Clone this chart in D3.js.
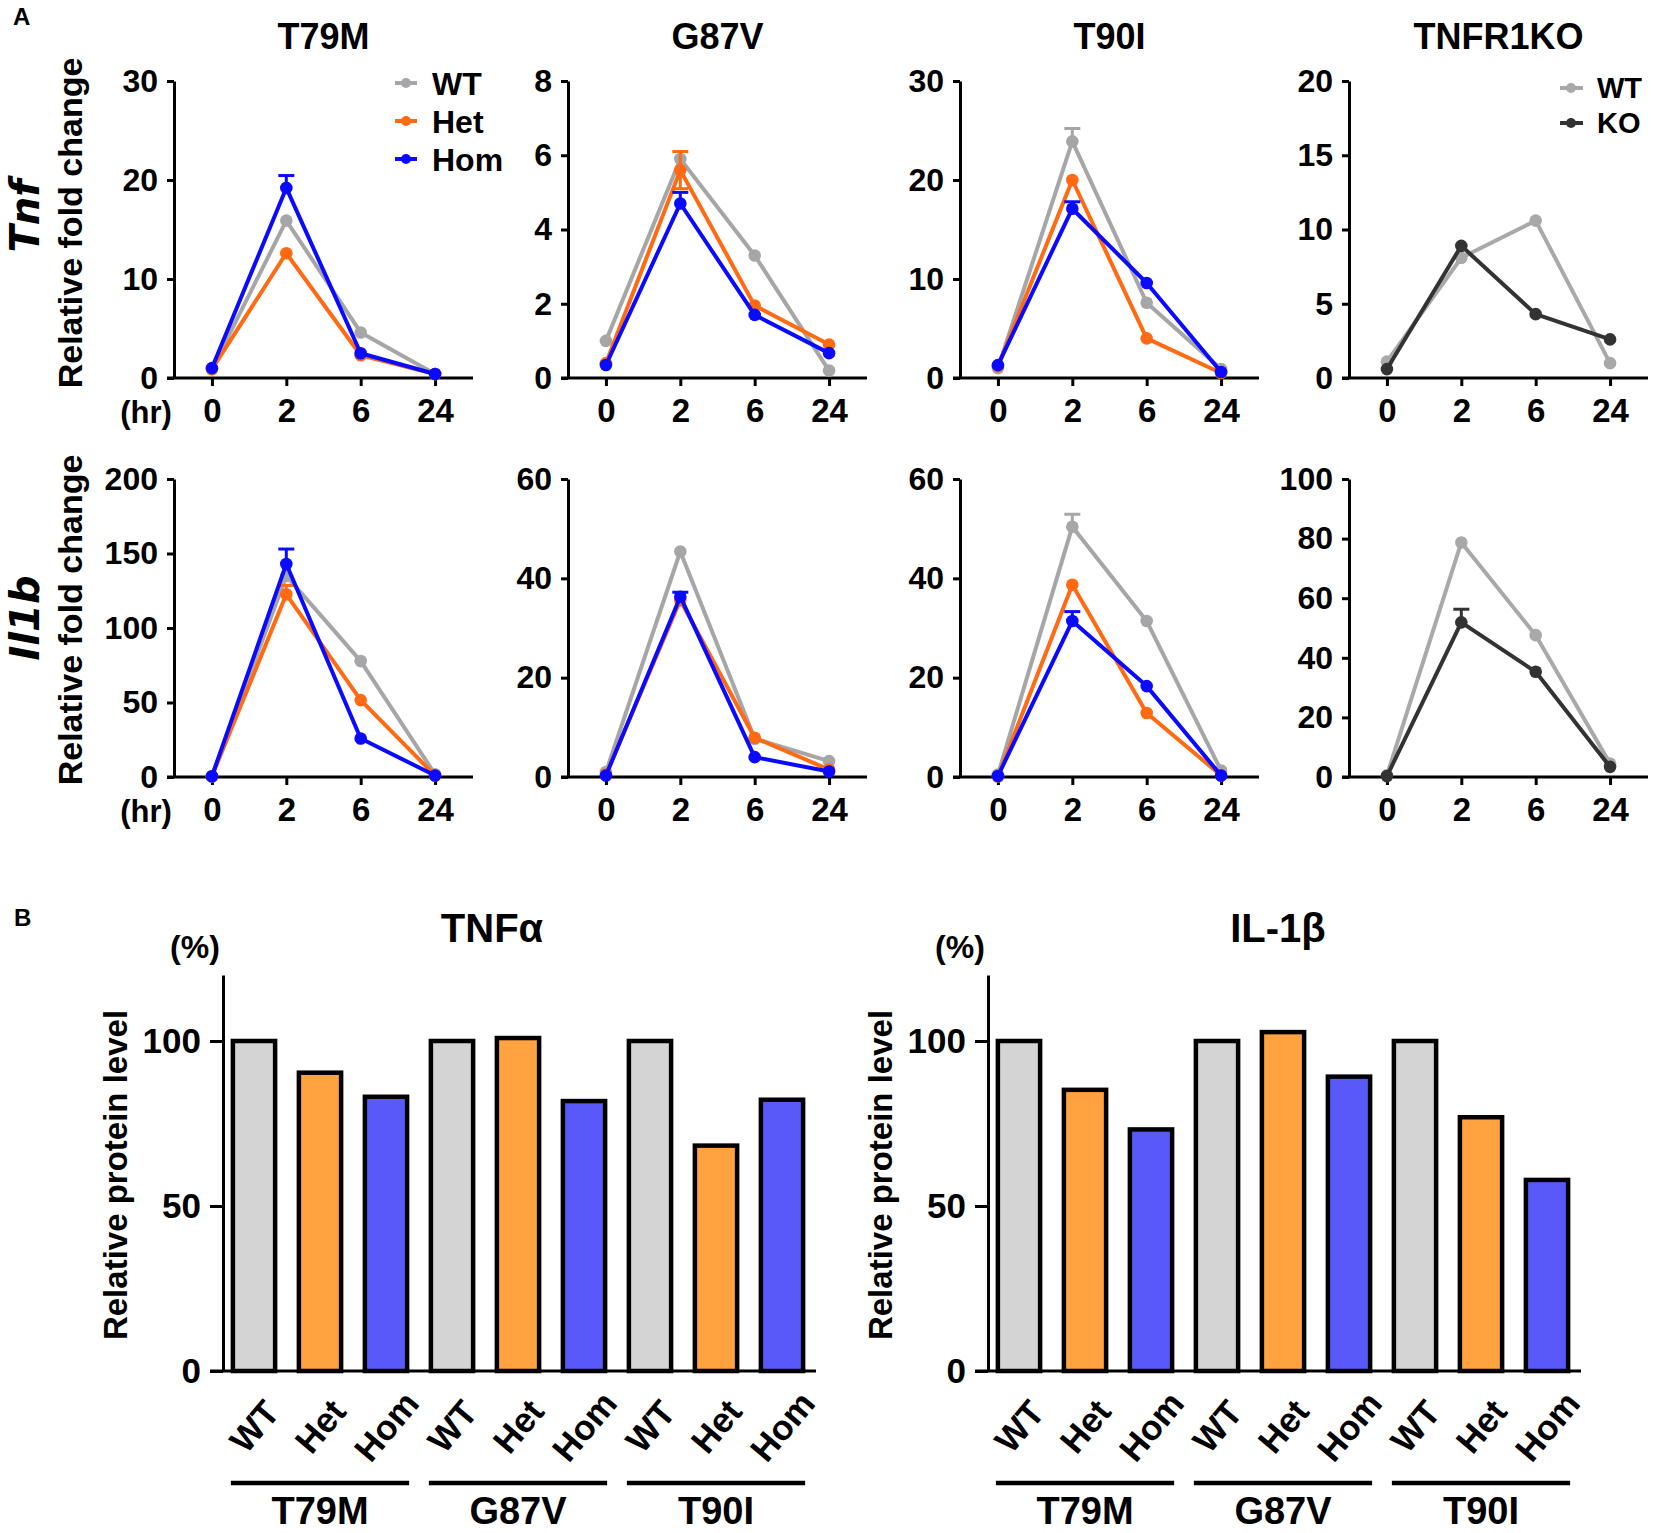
<!DOCTYPE html>
<html>
<head>
<meta charset="utf-8">
<script src="https://cdn.jsdelivr.net/npm/d3@7"></script>
<style>
body { margin: 0; background: #fff; }
svg text { font-family: "Liberation Sans", Arial, sans-serif; font-weight: bold; fill: #000; }
</style>
</head>
<body>
<div id="fig"></div>
<script>
// ---- data ----
var hours = ["0", "2", "6", "24"];

// Tnf, relative fold change
var tnfT79M_WT  = [0.9, 15.9, 4.6, 0.4];
var tnfT79M_Het = [0.9, 12.6, 2.3, 0.4];
var tnfT79M_Hom = [1.0, 19.2, 2.5, 0.4];
var tnfT79M_HomErr = [0, 1.25, 0, 0];

var tnfG87V_WT  = [1.0, 5.9, 3.3, 0.2];
var tnfG87V_Het = [0.4, 5.6, 1.95, 0.9];
var tnfG87V_Hom = [0.35, 4.7, 1.7, 0.67];
var tnfG87V_HetErr = [0, 0.5, 0, 0];
var tnfG87V_HomErr = [0, 0.3, 0, 0];

var tnfT90I_WT  = [1.0, 23.9, 7.6, 0.9];
var tnfT90I_Het = [1.2, 20.0, 4.0, 0.5];
var tnfT90I_Hom = [1.3, 17.1, 9.6, 0.6];
var tnfT90I_WTErr = [0, 1.3, 0, 0];
var tnfT90I_HomErr = [0, 0.7, 0, 0];

var tnfKO_WT = [1.1, 8.1, 10.6, 1.0];
var tnfKO_KO = [0.6, 8.9, 4.3, 2.6];

// Il1b, relative fold change
var il1bT79M_WT  = [0.5, 135, 77.8, 1.8];
var il1bT79M_Het = [0.5, 122.6, 51.6, 1.0];
var il1bT79M_Hom = [0.5, 143, 25.8, 1.0];
var il1bT79M_HetErr = [0, 6, 0, 0];
var il1bT79M_HomErr = [0, 10, 0, 0];

var il1bG87V_WT  = [1.0, 45.4, 7.7, 3.2];
var il1bG87V_Het = [0.5, 35.6, 7.9, 1.5];
var il1bG87V_Hom = [0.3, 36.3, 4.0, 1.1];
var il1bG87V_HomErr = [0, 0.9, 0, 0];

var il1bT90I_WT  = [0.5, 50.4, 31.4, 1.3];
var il1bT90I_Het = [0.1, 38.7, 12.9, 0.3];
var il1bT90I_Hom = [0.2, 31.4, 18.3, 0.3];
var il1bT90I_WTErr = [0, 2.5, 0, 0];
var il1bT90I_HomErr = [0, 1.9, 0, 0];

var il1bKO_WT = [0.6, 78.7, 47.6, 4.5];
var il1bKO_KO = [0.3, 51.9, 35.3, 3.4];
var il1bKO_KOErr = [0, 4.4, 0, 0];

// y tick labels
var ticksTnfT79M = [0, 10, 20, 30];
var ticksTnfG87V = [0, 2, 4, 6, 8];
var ticksTnfT90I = [0, 10, 20, 30];
var ticksTnfKO   = [0, 5, 10, 15, 20];
var ticksIl1bT79M = [0, 50, 100, 150, 200];
var ticksIl1bG87V = [0, 20, 40, 60];
var ticksIl1bT90I = [0, 20, 40, 60];
var ticksIl1bKO   = [0, 20, 40, 60, 80, 100];

// panel B, relative protein level (%)
var mutants = ["T79M", "G87V", "T90I"];
var genotypes = ["WT", "Het", "Hom"];
var tnfProtein  = [100, 90.4, 83.1, 100, 100.9, 81.8, 100, 68.3, 82.2];
var il1bProtein = [100, 85.2, 73.2, 100, 102.7, 89.2, 100, 76.9, 57.9];
var proteinTicks = [0, 50, 100];

// ---- styles ----
var lineColor = { WT: "#a6a6a8", Het: "#ff6a13", Hom: "#0a0aff", KOWT: "#a9a9a9", KO: "#333333" };
var barColor = { WT: "#d4d4d4", Het: "#ffa23f", Hom: "#5959fa" };

var W = 1654, H = 1533;
var svg = d3.select("#fig").append("svg")
    .attr("width", W).attr("height", H)
    .attr("viewBox", "0 0 " + W + " " + H);

// layout of panel A
var colX = [174, 568, 960, 1349];
var rowTop = [81, 479];
var rowZero = [378, 777];
var plotW = 299;

var linePanels = [
    { row: 0, col: 0, title: "T79M", yMax: 30, ticks: ticksTnfT79M, legend: true,
      series: [["WT", tnfT79M_WT, null], ["Het", tnfT79M_Het, null], ["Hom", tnfT79M_Hom, tnfT79M_HomErr]] },
    { row: 0, col: 1, title: "G87V", yMax: 8, ticks: ticksTnfG87V,
      series: [["WT", tnfG87V_WT, null], ["Het", tnfG87V_Het, tnfG87V_HetErr, true], ["Hom", tnfG87V_Hom, tnfG87V_HomErr]] },
    { row: 0, col: 2, title: "T90I", yMax: 30, ticks: ticksTnfT90I,
      series: [["WT", tnfT90I_WT, tnfT90I_WTErr], ["Het", tnfT90I_Het, null], ["Hom", tnfT90I_Hom, tnfT90I_HomErr]] },
    { row: 0, col: 3, title: "TNFR1KO", yMax: 20, ticks: ticksTnfKO, koLegend: true,
      series: [["KOWT", tnfKO_WT, null], ["KO", tnfKO_KO, null]] },
    { row: 1, col: 0, yMax: 200, ticks: ticksIl1bT79M,
      series: [["WT", il1bT79M_WT, null], ["Het", il1bT79M_Het, il1bT79M_HetErr], ["Hom", il1bT79M_Hom, il1bT79M_HomErr]] },
    { row: 1, col: 1, yMax: 60, ticks: ticksIl1bG87V,
      series: [["WT", il1bG87V_WT, null], ["Het", il1bG87V_Het, null], ["Hom", il1bG87V_Hom, il1bG87V_HomErr]] },
    { row: 1, col: 2, yMax: 60, ticks: ticksIl1bT90I,
      series: [["WT", il1bT90I_WT, il1bT90I_WTErr], ["Het", il1bT90I_Het, null], ["Hom", il1bT90I_Hom, il1bT90I_HomErr]] },
    { row: 1, col: 3, yMax: 100, ticks: ticksIl1bKO,
      series: [["KOWT", il1bKO_WT, null], ["KO", il1bKO_KO, il1bKO_KOErr]] }
];

function styleAxis(a, size) {
    a.selectAll("path, line").attr("stroke", "#000").attr("stroke-width", 3);
    a.selectAll("text").attr("font-size", size).attr("fill", "#000")
        .attr("font-family", "Liberation Sans, Arial, sans-serif").attr("font-weight", "bold");
}

linePanels.forEach(function(p) {
    var ax = colX[p.col], y0 = rowZero[p.row];
    var x = d3.scalePoint().domain(hours).range([ax, ax + plotW]).padding(0.51);
    var y = d3.scaleLinear().domain([0, p.yMax]).range([y0, rowTop[p.row]]);
    var g = svg.append("g");

    var ya = g.append("g").attr("transform", "translate(" + ax + ",0)")
        .call(d3.axisLeft(y).tickValues(p.ticks).tickSize(7).tickSizeOuter(0).tickPadding(9));
    styleAxis(ya, 32);

    var xa = g.append("g").attr("transform", "translate(0," + y0 + ")")
        .call(d3.axisBottom(x).tickSize(8).tickSizeOuter(0).tickPadding(13));
    xa.select(".domain").attr("d", "M" + (ax - 7) + ",0H" + (ax + plotW));
    styleAxis(xa, 33);

    var line = d3.line().x(function(d, i) { return x(hours[i]); }).y(function(d) { return y(d); });

    p.series.forEach(function(s) {
        var col = lineColor[s[0]], vals = s[1], err = s[2], both = s[3];
        g.append("path").datum(vals).attr("d", line)
            .attr("fill", "none").attr("stroke", col).attr("stroke-width", 4)
            .attr("stroke-linejoin", "round");
        if (err) {
            vals.forEach(function(v, i) {
                if (!err[i]) return;
                var cx = x(hours[i]);
                var ends = [v + err[i]];
                if (both) ends.push(v - err[i]);
                ends.forEach(function(e) {
                    g.append("line").attr("x1", cx).attr("x2", cx).attr("y1", y(v)).attr("y2", y(e))
                        .attr("stroke", col).attr("stroke-width", 3);
                    g.append("line").attr("x1", cx - 8).attr("x2", cx + 8).attr("y1", y(e)).attr("y2", y(e))
                        .attr("stroke", col).attr("stroke-width", 3);
                });
            });
        }
        g.selectAll(null).data(vals).join("circle")
            .attr("cx", function(d, i) { return x(hours[i]); })
            .attr("cy", function(d) { return y(d); })
            .attr("r", 6.3).attr("fill", col);
    });

    if (p.title) {
        g.append("text").attr("x", ax + plotW / 2).attr("y", 49)
            .attr("text-anchor", "middle").attr("font-size", 36).text(p.title);
    }

    // legends
    if (p.legend) {
        genotypes.forEach(function(gt, i) {
            var ly = 83 + i * 38;
            g.append("line").attr("x1", ax + 221).attr("x2", ax + 243).attr("y1", ly).attr("y2", ly)
                .attr("stroke", lineColor[gt]).attr("stroke-width", 4);
            g.append("circle").attr("cx", ax + 232).attr("cy", ly).attr("r", 5).attr("fill", lineColor[gt]);
            g.append("text").attr("x", ax + 258).attr("y", ly).attr("dy", "0.36em")
                .attr("font-size", 32).text(gt);
        });
    }
    if (p.koLegend) {
        [["KOWT", "WT"], ["KO", "KO"]].forEach(function(k, i) {
            var ly = 88 + i * 35;
            g.append("line").attr("x1", ax + 211).attr("x2", ax + 234).attr("y1", ly).attr("y2", ly)
                .attr("stroke", lineColor[k[0]]).attr("stroke-width", 4);
            g.append("circle").attr("cx", ax + 222).attr("cy", ly).attr("r", 5).attr("fill", lineColor[k[0]]);
            g.append("text").attr("x", ax + 248).attr("y", ly).attr("dy", "0.36em")
                .attr("font-size", 29).text(k[1]);
        });
    }

    if (p.col === 0) {
        g.append("text").attr("x", 146).attr("y", y0 + 45)
            .attr("text-anchor", "middle").attr("font-size", 31).text("(hr)");
    }
});

// row labels of panel A
[["Tnf", 216], ["Il1b", 618]].forEach(function(r, i) {
    svg.append("text").attr("transform", "translate(25," + r[1] + ") rotate(-90)")
        .attr("text-anchor", "middle").attr("dy", "0.36em")
        .attr("font-size", 40).attr("font-style", "italic")
        .style("font-family", "'DejaVu Sans', Verdana, sans-serif")
        .text(r[0]);
    svg.append("text").attr("transform", "translate(70," + (i === 0 ? 223 : 620) + ") rotate(-90)")
        .attr("text-anchor", "middle").attr("dy", "0.36em")
        .attr("font-size", 34).text("Relative fold change");
});

svg.append("text").attr("x", 13).attr("y", 25).attr("font-size", 24).text("A");
svg.append("text").attr("x", 14).attr("y", 926).attr("font-size", 24).text("B");

// ---- panel B ----
var barPanels = [
    { ax: 223, title: "TNF\u03b1", titleX: 492, values: tnfProtein },
    { ax: 988, title: "IL-1\u03b2", titleX: 1278, values: il1bProtein }
];
var barZero = 1371, barTop = 975;
var categories = [];
mutants.forEach(function(m) { genotypes.forEach(function(gt) { categories.push(m + "_" + gt); }); });

barPanels.forEach(function(p) {
    var ax = p.ax;
    var x = d3.scaleBand().domain(categories).range([ax - 2, ax + 592])
        .paddingInner(0.36).paddingOuter(0.18);
    var y = d3.scaleLinear().domain([0, 120]).range([barZero, barTop]);
    var g = svg.append("g");

    g.selectAll("rect").data(p.values).join("rect")
        .attr("x", function(d, i) { return x(categories[i]); })
        .attr("width", x.bandwidth())
        .attr("y", function(d) { return y(d); })
        .attr("height", function(d) { return y(0) - y(d); })
        .attr("fill", function(d, i) { return barColor[genotypes[i % 3]]; })
        .attr("stroke", "#000").attr("stroke-width", 4.5);

    var ya = g.append("g").attr("transform", "translate(" + ax + ",0)")
        .call(d3.axisLeft(y).tickValues(proteinTicks).tickSize(13).tickSizeOuter(0).tickPadding(9));
    styleAxis(ya, 35);
    g.append("line").attr("x1", ax - 13).attr("x2", ax + 593).attr("y1", y(0)).attr("y2", y(0))
        .attr("stroke", "#000").attr("stroke-width", 3);

    // rotated genotype labels
    g.selectAll(".cat").data(categories).join("text")
        .attr("transform", function(c) {
            return "translate(" + (x(c) + x.bandwidth() / 2) + ",1426) rotate(-50)";
        })
        .attr("text-anchor", "middle").attr("dy", "0.36em")
        .attr("font-size", 35)
        .text(function(c) { return c.split("_")[1]; });

    // mutant group bars and labels
    mutants.forEach(function(m) {
        var x1 = x(m + "_WT") - 2, x2 = x(m + "_Hom") + x.bandwidth() + 2;
        g.append("line").attr("x1", x1).attr("x2", x2).attr("y1", 1483).attr("y2", 1483)
            .attr("stroke", "#000").attr("stroke-width", 4.5);
        g.append("text").attr("x", (x1 + x2) / 2).attr("y", 1524)
            .attr("text-anchor", "middle").attr("font-size", 38).text(m);
    });

    g.append("text").attr("x", p.titleX).attr("y", 942)
        .attr("text-anchor", "middle").attr("font-size", 40).text(p.title);
    g.append("text").attr("x", ax - 28).attr("y", 958)
        .attr("text-anchor", "middle").attr("font-size", 32).text("(%)");
    g.append("text").attr("transform", "translate(" + (ax - 108) + ",1175) rotate(-90)")
        .attr("text-anchor", "middle").attr("dy", "0.36em")
        .attr("font-size", 33).text("Relative protein level");
});
</script>
</body>
</html>
